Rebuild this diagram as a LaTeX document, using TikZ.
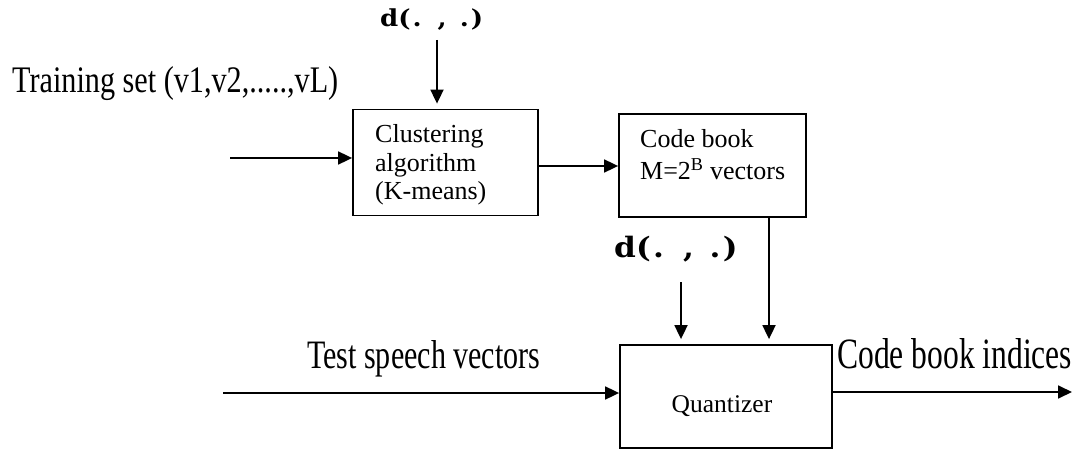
\documentclass[tikz,border=0pt]{standalone}
\usepackage{fontspec}
\setmainfont{Liberation Serif}
\newfontfamily\dfont{DejaVu Serif}
\usetikzlibrary{arrows.meta}
\newcommand\dtext{\scalebox{1}[0.9]{\dfont\bfseries\fontsize{26pt}{28pt}\selectfont d(\hspace{2pt}.\hspace{16pt},\hspace{13pt}.\hspace{2pt})}}
\tikzset{
  blk/.style={draw, line width=1.8pt, rectangle, inner sep=0pt},
  conn/.style={line width=1.8pt, -{Triangle[length=14pt,width=13pt]}},
  lbl/.style={inner sep=0pt, anchor=base west},
  boxtxt/.style={inner sep=0pt, anchor=base west, font=\fontsize{26pt}{28.5pt}\selectfont, align=left},
}
\begin{document}
\begin{tikzpicture}[x=1pt,y=-1pt]
\useasboundingbox (0,0) rectangle (1076,449);
% boxes
\node[blk, minimum width=185pt, minimum height=106pt] (clus) at (445.5,162.5) {};
\node[blk, minimum width=187pt, minimum height=103pt] (code) at (712.5,165.5) {};
\node[blk, minimum width=212pt, minimum height=103pt] (quant) at (726,396.5) {};
% box texts (anchored at the baseline of the last line)
\node[boxtxt] (clustxt) at (375,200) {Clustering\\algorithm\\(K-means)};
\node[lbl, font=\fontsize{26pt}{32pt}\selectfont, align=left] (codetxt) at (640,180) {Code book\\M=2\textsuperscript{B} vectors};
\node[inner sep=0pt, anchor=base, font=\fontsize{25.5pt}{30pt}\selectfont] (quanttxt) at (722,412) {Quantizer};
% labels
\node[lbl] (train) at (12,93) {\resizebox{326pt}{26pt}{Training set (v1,v2,.....,vL)}};
\node[lbl] (test) at (307,368) {\resizebox{233pt}{28pt}{Test speech vectors}};
\node[lbl] (idx) at (837,368) {\resizebox{235pt}{30pt}{Code book indices}};
\node[lbl] (dtop) at (380,27) {\dtext};
\node[lbl] (dmid) at (614,258) {\scalebox{1.2}{\dtext}};
% connector start points
\coordinate (a0) at (230,158);
\coordinate (a1) at (437,40);
\coordinate (a2) at (538,166);
\coordinate (a3) at (769,217);
\coordinate (a4) at (681,282);
\coordinate (a5) at (223,393);
\coordinate (a6) at (1072,392);
% connectors
\draw[conn] (a0) -- (a0 -| clus.west);
\draw[conn, shorten >=5pt] (a1) -- (a1 |- clus.north);
\draw[conn] (a2) -- (a2 -| code.west);
\draw[conn, shorten >=5pt] (a3) -- (a3 |- quant.north);
\draw[conn, shorten >=5pt] (a4) -- (a4 |- quant.north);
\draw[conn] (a5) -- (a5 -| quant.west);
\draw[conn] (a6 -| quant.east) -- (a6);
\end{tikzpicture}
\end{document}
